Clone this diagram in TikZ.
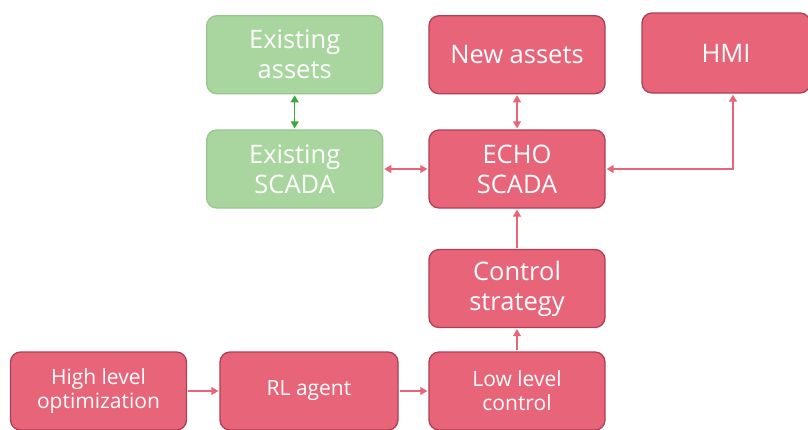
\documentclass[tikz,border=0pt]{standalone}
\usepackage{fontspec}
\setmainfont{Open Sans}
\usetikzlibrary{positioning,arrows.meta}

\definecolor{boxred}{RGB}{232,100,121}
\definecolor{edgered}{RGB}{176,62,84}
\definecolor{boxgreen}{RGB}{168,214,158}
\definecolor{edgegreen}{RGB}{150,200,140}
\definecolor{arrowgreen}{RGB}{58,168,58}

\begin{document}
\begin{tikzpicture}[x=1pt,y=-1pt,
    red box/.style={rectangle,rounded corners=10pt,fill=boxred,draw=edgered,line width=1.3pt,
        text=white,align=center,minimum width=176pt,minimum height=78pt,inner sep=2pt,
        font=\fontsize{25.5}{30}\selectfont},
    green box/.style={red box,fill=boxgreen,draw=edgegreen},
    small text/.style={font=\fontsize{21}{24}\selectfont},
    tip/.style={Triangle[width=8pt,length=7pt]},
    link/.style={draw=boxred,line width=1.3pt,{Triangle[width=8pt,length=7pt]}-{Triangle[width=8pt,length=7pt]},shorten <=1pt,shorten >=1pt},
    one way/.style={link,-{Triangle[width=8pt,length=7pt]}}]
    \useasboundingbox (0,0) rectangle (808,429);

    \node[red box] (echo) at (517,169) {ECHO\\SCADA};
    \node[red box] (newassets) [above = 35pt of echo] {New assets};
    \node[green box] (exscada) [left = 45pt of echo] {Existing\\SCADA};
    \node[green box] (exassets) [above = 35pt of exscada] {Existing\\assets};
    \node[red box,minimum width=168pt,minimum height=80pt] (hmi) at (726,53) {HMI};
    \node[red box] (ctrl) at (517,288.5) {Control\\strategy};
    \node[red box,small text] (low) at (517,391) {Low level\\control};
    \node[red box,small text,minimum width=178pt] (rl) at (309,391) {RL agent};
    \node[red box,small text] (high) at (98.5,391) {High level\\optimization};

    \draw[link,draw=arrowgreen] (exassets) -- (exscada);
    \draw[link] (newassets) -- (echo);
    \draw[link] (exscada) -- (echo);
    \draw[link] (echo.east) -| ([xshift=7pt]hmi.south);
    \draw[one way] (ctrl) -- (echo);
    \draw[one way] (low) -- (ctrl);
    \draw[one way] (high) -- (rl);
    \draw[one way] (rl) -- (low);
\end{tikzpicture}
\end{document}
